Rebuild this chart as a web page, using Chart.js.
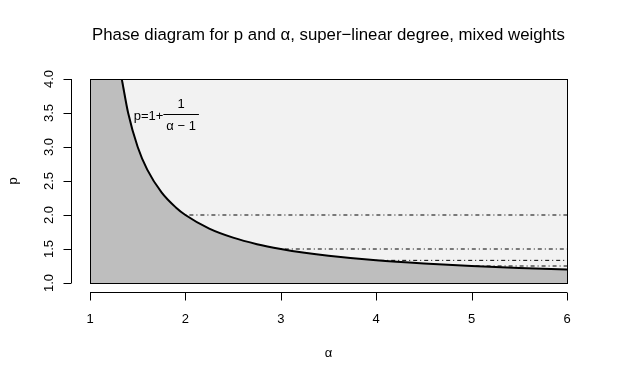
<!DOCTYPE html>
<html>
<head>
<meta charset="utf-8">
<script src="https://cdn.jsdelivr.net/npm/chart.js@4.4.1/dist/chart.umd.min.js"></script>
<style>
  html, body { margin: 0; padding: 0; background: #fff; }
  #wrap { width: 623px; height: 380px; }
</style>
</head>
<body>
<div id="wrap"><canvas id="phase" width="623" height="380"></canvas></div>
<script>
// boundary curve (alpha, p)
var curveAlpha = [1.333, 1.4, 1.5, 1.6, 1.75, 1.9, 2, 2.25, 2.5, 2.75, 3, 3.25, 3.5, 4, 4.5, 5, 5.5, 6];
var curveP     = [4.0, 3.5, 3.0, 2.667, 2.333, 2.111, 2.0, 1.8, 1.667, 1.571, 1.5, 1.444, 1.4, 1.333, 1.286, 1.25, 1.222, 1.2];

// dash-dot guide lines: level p, starting alpha, ending alpha
var guideP     = [2, 1.5, 1.333, 1.25];
var guideStart = [2, 3, 4, 5];
var guideEnd   = [6, 6, 6, 6];

var xTicks = [1, 2, 3, 4, 5, 6];
var yTicks = [1.0, 1.5, 2.0, 2.5, 3.0, 3.5, 4.0];

var FONT = "'Liberation Sans', Arial, Helvetica, sans-serif";
Chart.defaults.color = '#000';
Chart.defaults.font.family = FONT;

var curvePts = [];
for (var i = 0; i < curveAlpha.length; i++) {
    curvePts.push({ x: curveAlpha[i], y: curveP[i] });
}
// shaded region also covers the corner left of the curve
var fillPts = [{ x: 1, y: 4 }].concat(curvePts);

var datasets = [];
datasets.push({
    label: 'region',
    data: fillPts,
    backgroundColor: '#BEBEBE',
    borderWidth: 0,
    pointRadius: 0,
    fill: 'start',
    cubicInterpolationMode: 'monotone',
    order: 3
});
for (var j = 0; j < guideP.length; j++) {
    datasets.push({
        label: 'guide' + j,
        data: [{ x: guideStart[j], y: guideP[j] }, { x: guideEnd[j], y: guideP[j] }],
        borderColor: '#000',
        borderWidth: 1,
        borderDash: [1, 3, 4, 3],
        pointRadius: 0,
        fill: false,
        order: 2
    });
}
datasets.push({
    label: 'boundary',
    data: curvePts,
    borderColor: '#000',
    borderWidth: 2,
    pointRadius: 0,
    fill: false,
    cubicInterpolationMode: 'monotone',
    order: 1
});

// R-like pieces: light panel, box, offset axes, formula
var rStyle = {
    id: 'rStyle',
    beforeDatasetsDraw: function (chart) {
        var a = chart.chartArea, c = chart.ctx;
        c.save();
        c.fillStyle = '#F2F2F2';
        c.fillRect(a.left, a.top, a.right - a.left, a.bottom - a.top);
        c.restore();
    },
    afterDatasetsDraw: function (chart) {
        var a = chart.chartArea, c = chart.ctx;
        var xs = chart.scales.x, ys = chart.scales.y;
        c.save();
        c.strokeStyle = '#000';
        c.lineWidth = 1;
        c.strokeRect(Math.round(a.left) + 0.5, Math.round(a.top) + 0.5,
            Math.round(a.right - a.left), Math.round(a.bottom - a.top));

        // y axis
        var ax = Math.round(a.left) - 19 + 0.5;
        c.beginPath();
        c.moveTo(ax, ys.getPixelForValue(yTicks[0]));
        c.lineTo(ax, ys.getPixelForValue(yTicks[yTicks.length - 1]));
        yTicks.forEach(function (v) {
            var py = Math.round(ys.getPixelForValue(v)) + 0.5;
            c.moveTo(ax, py);
            c.lineTo(ax - 8, py);
        });
        c.stroke();

        // x axis
        var ay = Math.round(a.bottom) + 9 + 0.5;
        c.beginPath();
        c.moveTo(xs.getPixelForValue(xTicks[0]), ay);
        c.lineTo(xs.getPixelForValue(xTicks[xTicks.length - 1]), ay);
        xTicks.forEach(function (v) {
            var px = Math.round(xs.getPixelForValue(v)) + 0.5;
            c.moveTo(px, ay);
            c.lineTo(px, ay + 8);
        });
        c.stroke();

        // formula p = 1 + 1/(alpha - 1)
        c.font = '13px ' + FONT;
        c.fillStyle = '#000';
        var cx = xs.getPixelForValue(1.8), cy = ys.getPixelForValue(3.48);
        var left = 'p=1+', den = '\u03b1 \u2212 1';
        var wl = c.measureText(left).width;
        var wf = c.measureText(den).width + 6;
        var x0 = cx - (wl + wf) / 2;
        c.textBaseline = 'middle';
        c.textAlign = 'left';
        c.fillText(left, x0, cy + 2);
        c.beginPath();
        c.moveTo(x0 + wl, Math.round(cy) + 0.5);
        c.lineTo(x0 + wl + wf, Math.round(cy) + 0.5);
        c.stroke();
        c.textAlign = 'center';
        c.fillText('1', x0 + wl + wf / 2, cy - 10);
        c.fillText(den, x0 + wl + wf / 2, cy + 12);
        c.restore();
    }
};

new Chart(document.getElementById('phase').getContext('2d'), {
    type: 'line',
    data: { datasets: datasets },
    plugins: [rStyle],
    options: {
        responsive: false,
        animation: false,
        layout: { padding: { left: 0, right: 56, top: 0, bottom: 0 } },
        plugins: {
            legend: { display: false },
            tooltip: { enabled: false },
            title: {
                display: true,
                fullSize: false,
                text: 'Phase diagram for p and \u03b1, super\u2212linear degree, mixed weights',
                font: { size: 16.8, weight: 'normal', family: FONT },
                color: '#000',
                padding: { top: 25, bottom: 33.84 }
            }
        },
        scales: {
            x: {
                type: 'linear',
                min: 1,
                max: 6,
                afterBuildTicks: function (s) { s.ticks = xTicks.map(function (v) { return { value: v }; }); },
                afterFit: function (s) { s.height = 97; },
                grid: { display: false, drawTicks: false, tickLength: 0 },
                border: { display: false },
                ticks: { font: { size: 13 }, padding: 29, maxRotation: 0, callback: function (v) { return String(v); } },
                title: { display: true, text: '\u03b1', font: { size: 13 }, padding: { top: 0, bottom: 19 } }
            },
            y: {
                type: 'linear',
                min: 1,
                max: 4,
                afterBuildTicks: function (s) { s.ticks = yTicks.map(function (v) { return { value: v }; }); },
                afterFit: function (s) { s.width = 90; },
                grid: { display: false, drawTicks: false, tickLength: 0 },
                border: { display: false },
                ticks: {
                    font: { size: 13 },
                    minRotation: 90,
                    maxRotation: 90,
                    crossAlign: 'center',
                    padding: 32,
                    callback: function (v) { return Number(v).toFixed(1); }
                },
                title: { display: true, text: 'p', font: { size: 13 }, padding: { top: 6, bottom: 0 } }
            }
        }
    }
});
</script>
</body>
</html>
